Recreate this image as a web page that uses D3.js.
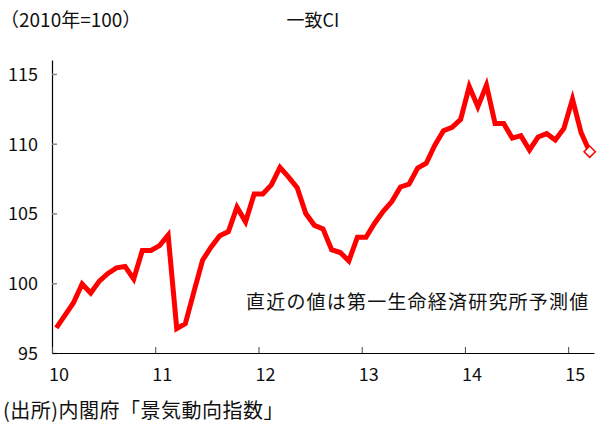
<!DOCTYPE html>
<html>
<head>
<meta charset="utf-8">
<script src="https://cdn.jsdelivr.net/npm/d3@7"></script>
<style>
  body { margin: 0; background: #fff; }
  text { font-family: "Noto Sans CJK JP", "Noto Sans", sans-serif; fill: #111; }
</style>
</head>
<body>
<div id="chart"></div>
<script>
// monthly coincident index, Jan 2010 .. Mar 2015 (last one is a forecast)
var ciValues = [
    96.8, 97.7, 98.6, 99.95, 99.3, 100.15, 100.7, 101.1, 101.2, 100.3, 102.35, 102.35,
    102.7, 103.45, 96.75, 97.1, 99.4, 101.65, 102.6, 103.4, 103.7, 105.45, 104.4, 106.4,
    106.4, 107.05, 108.3, 107.6, 106.85, 105.0, 104.15, 103.9, 102.4, 102.2, 101.6, 103.3,
    103.3, 104.3, 105.15, 105.85, 106.9, 107.1, 108.25, 108.6, 109.9, 110.93, 111.18, 111.75,
    114.1, 112.65, 114.2, 111.45, 111.45, 110.4, 110.58, 109.55, 110.48, 110.72, 110.27, 111.1,
    113.2, 110.8, 109.43
];
var yearLabels = ["10", "11", "12", "13", "14", "15"];
var yTicks = [95, 100, 105, 110, 115];
var forecastIndex = ciValues.length - 1;

var titleText = "一致CI";
var unitText = "（2010年=100）";
var noteText = "直近の値は第一生命経済研究所予測値";
var sourceText = "(出所)内閣府「景気動向指数」";

var width = 598, height = 426;
var margin = { top: 60, right: 4, bottom: 73, left: 52 };
var innerW = width - margin.left - margin.right,
    innerH = height - margin.top - margin.bottom;

var svg = d3.select("#chart")
    .append("svg")
    .attr("width", width)
    .attr("height", height);

var g = svg.append("g")
    .attr("transform", "translate(" + margin.left + "," + margin.top + ")");

// x: month index, each month is one category slot
var x = d3.scaleLinear()
    .domain([0, ciValues.length])
    .range([0, innerW]);

var y = d3.scaleLinear()
    .domain([95, 116])
    .range([innerH, 0]);

// y axis
var yAxis = g.append("g")
    .call(d3.axisLeft(y).tickValues(yTicks).tickSize(-5).tickPadding(14).tickSizeOuter(0));
yAxis.select(".domain").attr("stroke", "#000").attr("stroke-width", 1.2);
yAxis.selectAll(".tick line").attr("stroke", "#888").attr("stroke-width", 1.5);
yAxis.selectAll("text").style("font-size", "18px").attr("dy", "0.36em");

// x axis: ticks at year boundaries
var yearStarts = yearLabels.map(function (d, i) { return i * 12; });
var xAxis = g.append("g")
    .attr("transform", "translate(0," + innerH + ")")
    .call(d3.axisBottom(x).tickValues(yearStarts).tickSize(-6).tickSizeOuter(0).tickFormat(""));
xAxis.select(".domain").attr("stroke", "#000").attr("stroke-width", 1.2);
xAxis.selectAll(".tick line").attr("stroke", "#444").attr("stroke-width", 1);

// x labels sit on the January slot of each year
var xLabelAxis = g.append("g")
    .attr("transform", "translate(0," + innerH + ")")
    .call(d3.axisBottom(x)
        .tickValues(yearStarts.map(function (d) { return d + 0.75; }))
        .tickSize(0).tickPadding(15)
        .tickFormat(function (d, i) { return yearLabels[i]; }));
xLabelAxis.select(".domain").remove();
xLabelAxis.selectAll("text").style("font-size", "18px");

// the line
var line = d3.line()
    .x(function (d, i) { return x(i + 0.5); })
    .y(function (d) { return y(d); });

g.append("path")
    .datum(ciValues)
    .attr("d", line)
    .attr("fill", "none")
    .attr("stroke", "#ff0000")
    .attr("stroke-width", 5)
    .attr("stroke-linejoin", "miter");

// forecast marker
g.append("path")
    .attr("d", d3.symbol().type(d3.symbolSquare).size(64))
    .attr("transform", "translate(" + x(forecastIndex + 0.5) + "," + y(ciValues[forecastIndex]) + ") rotate(45)")
    .attr("fill", "#fff")
    .attr("stroke", "#ff0000")
    .attr("stroke-width", 1.5);

// texts
svg.append("text")
    .attr("x", 0)
    .attr("y", 27)
    .style("font-size", "19px")
    .text(unitText);

svg.append("text")
    .attr("x", 313)
    .attr("y", 27)
    .attr("text-anchor", "middle")
    .style("font-size", "18px")
    .text(titleText);

svg.append("text")
    .attr("x", 246)
    .attr("y", 309)
    .style("font-size", "19px")
    .style("letter-spacing", "1.2px")
    .text(noteText);

svg.append("text")
    .attr("x", 3)
    .attr("y", 418)
    .style("font-size", "20px")
    .style("letter-spacing", "0.5px")
    .text(sourceText);
</script>
</body>
</html>
